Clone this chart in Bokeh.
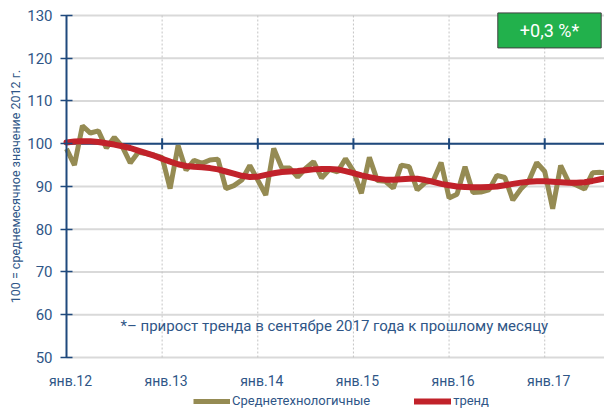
from bokeh.plotting import figure
from bokeh.models import FixedTicker, Label, Legend, LegendItem, Range1d
from bokeh.core.properties import value
from bokeh.embed import file_html
from bokeh.resources import INLINE
import math

# ---- data (month index 0 = янв.2012) ----
series_name = "Среднетехнологичные"
trend_name = "тренд"
values = [98.8, 95.0, 104.2, 102.5, 103.0, 99.0, 101.5, 99.3, 95.5, 98.0, 97.7, 97.3,
          96.8, 89.5, 99.6, 93.8, 96.1, 95.4, 96.2, 96.4, 89.5, 90.2, 91.5, 94.9,
          91.5, 88.0, 98.9, 94.4, 94.3, 92.2, 94.2, 95.8, 92.0, 94.0, 93.4, 96.5,
          93.6, 88.4, 96.8, 91.4, 91.2, 89.6, 95.0, 94.6, 89.2, 90.9, 91.3, 95.6,
          87.3, 88.2, 94.6, 88.6, 88.7, 89.2, 92.6, 92.1, 86.8, 89.4, 91.3, 95.6,
          93.5, 84.8, 94.9, 91.0, 90.3, 89.4, 93.2, 93.3, 93.1]
trend = [100.3, 100.5, 100.6, 100.6, 100.4, 100.1, 99.8, 99.4, 99.0, 98.4, 97.8, 97.2,
         96.5, 95.8, 95.2, 94.8, 94.6, 94.5, 94.3, 94.0, 93.5, 93.0, 92.5, 92.2,
         92.3, 92.7, 93.1, 93.4, 93.5, 93.6, 93.8, 94.0, 94.1, 94.1, 94.0, 93.6,
         93.1, 92.6, 92.2, 91.8, 91.6, 91.6, 91.7, 91.8, 91.8, 91.5, 91.1, 90.6,
         90.3, 90.0, 89.9, 89.8, 89.8, 89.9, 90.0, 90.3, 90.6, 90.9, 91.1, 91.2,
         91.2, 91.1, 91.0, 90.9, 90.9, 91.0, 91.3, 91.7, 92.0]
months = list(range(len(values)))
year_ticks = [0, 12, 24, 36, 48, 60]
year_labels = ["янв.12", "янв.13", "янв.14", "янв.15", "янв.16", "янв.17"]
y_ticks = [50, 60, 70, 80, 90, 100, 110, 120, 130]
baseline = 100
badge_text = "+0,3 %*"
note_text = "*– прирост  тренда в  сентябре  2017 года к прошлому месяцу"
y_title = "100 = среднемесячное значение 2012 г."

# ---- styles ----
FONT = "Roboto"
TXT = "#2f5687"
NAVY = "#1f497d"
OLIVE = "#958b53"
RED = "#c1222a"
GREEN = "#22b14c"

y_lo, y_hi = y_ticks[0], y_ticks[-1]
x_lo, x_hi = 0, 67.5

# the frame fills the whole canvas; axis drawn at a fixed location inside it
p = figure(width=604, height=413, output_backend="svg", toolbar_location=None,
           x_range=Range1d(-8.28, x_hi), y_range=Range1d(36.9, 133.5),
           min_border_left=0, min_border_right=0, min_border_top=0, min_border_bottom=0)
p.outline_line_color = None
p.background_fill_color = "white"
p.xaxis.visible = False
p.xgrid.visible = False
p.ygrid.visible = False

# horizontal grid lines (between the axis and the right edge)
p.segment(x0=[x_lo] * len(y_ticks), y0=y_ticks, x1=[x_hi] * len(y_ticks), y1=y_ticks,
          line_color="#d9d9d9", line_width=2, level="underlay")
# vertical dotted year lines
p.segment(x0=year_ticks[1:], y0=[y_lo] * 5, x1=year_ticks[1:], y1=[y_hi] * 5,
          line_color="#c4c4c4", line_dash="2 2", line_width=1, level="underlay")
# baseline at 100
p.segment(x0=[x_lo], y0=[baseline], x1=[x_hi], y1=[baseline], line_color=NAVY, line_width=2)

# y axis
p.yaxis.fixed_location = x_lo
p.yaxis.bounds = (y_lo, y_hi)
p.yaxis.ticker = FixedTicker(ticks=y_ticks)
p.yaxis.axis_line_color = NAVY
p.yaxis.axis_line_width = 2
p.yaxis.major_tick_line_color = NAVY
p.yaxis.major_tick_line_width = 1.5
p.yaxis.major_tick_in = 6
p.yaxis.major_tick_out = 6
p.yaxis.minor_tick_line_color = None
p.yaxis.major_label_standoff = 8
p.yaxis.major_label_text_font = FONT
p.yaxis.major_label_text_font_size = "15px"
p.yaxis.major_label_text_color = TXT
p.yaxis.axis_label = y_title
p.yaxis.axis_label_text_font = FONT
p.yaxis.axis_label_text_font_size = "12.5px"
p.yaxis.axis_label_text_font_style = "normal"
p.yaxis.axis_label_text_color = TXT
p.yaxis.axis_label_standoff = 1

# month labels under the plot area
label_pos = [t + 0.5 for t in year_ticks]
p.text(x=label_pos, y=[44.6] * len(label_pos), text=year_labels, text_align="center",
       text_baseline="middle", text_font=value(FONT), text_font_size="14px", text_color=TXT)

# year tick marks on the baseline
p.scatter(x=year_ticks[1:], y=[baseline] * (len(year_ticks) - 1), marker="dash", angle=math.pi / 2,
          size=11, line_color=NAVY, line_width=2)

r1 = p.line(months, values, line_color=OLIVE, line_width=5)
r2 = p.line(months, trend, line_color=RED, line_width=6, line_cap="round")

legend = Legend(items=[LegendItem(label=series_name, renderers=[r1]),
                       LegendItem(label=trend_name, renderers=[r2])],
                orientation="horizontal", location=(193, 5),
                glyph_width=37, glyph_height=12, label_standoff=2, spacing=44,
                padding=0, margin=0, border_line_color=None, background_fill_alpha=0,
                label_text_font=FONT, label_text_font_size="13px", label_text_color=TXT)
p.add_layout(legend)

p.add_layout(Label(x=34.3, y=57.3, text=note_text, text_align="center", text_baseline="middle",
                   text_font=FONT, text_font_size="15px", text_color=TXT))
p.add_layout(Label(x=60.6, y=126.5, text=badge_text, text_align="center", text_baseline="middle",
                   text_font=FONT, text_font_size="18px", text_color="white",
                   background_fill_color=GREEN, border_line_color="#404040", border_line_width=1,
                   padding=(22, 7)))

open("out.html", "w").write(file_html(p, INLINE))
